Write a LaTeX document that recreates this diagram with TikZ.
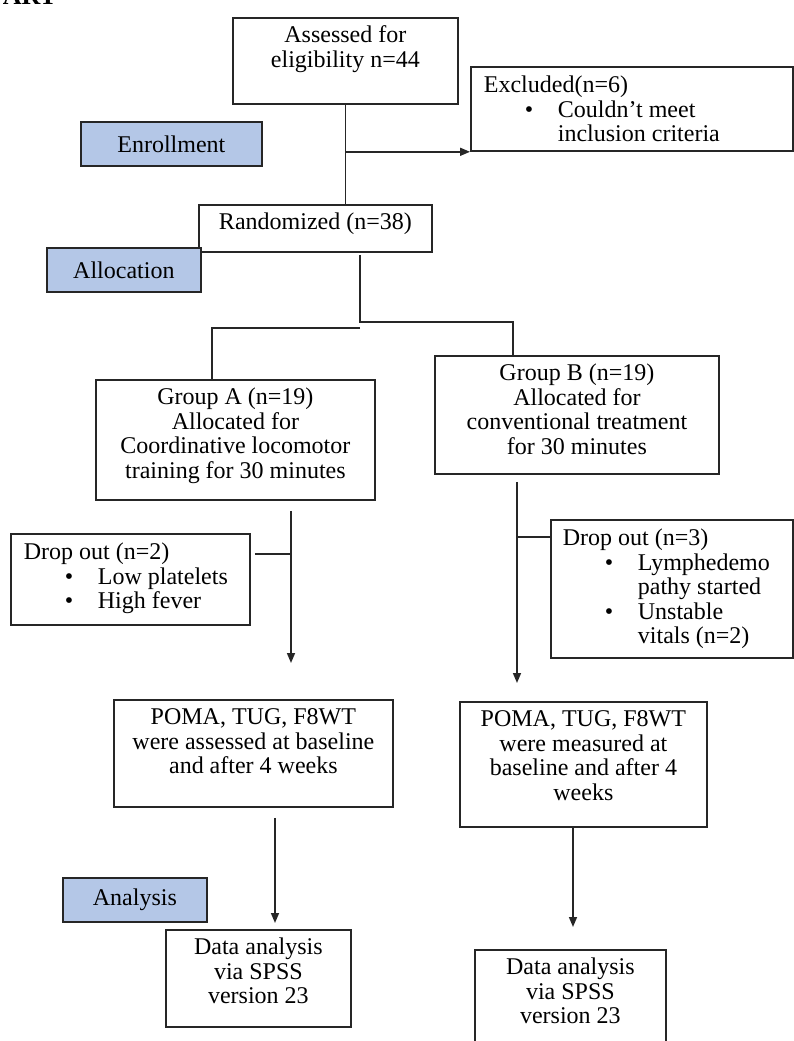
\documentclass[tikz,border=0pt]{standalone}
\usepackage{fontspec}
\setmainfont{Liberation Serif}
\usepackage{tikz}
\usetikzlibrary{arrows.meta,positioning}
\usepackage{xcolor}

\definecolor{phaseblue}{HTML}{B4C7E7}
% text blocks: top aligned, fixed height
\newcommand{\boxtxt}[3]{\parbox[t][#2][t]{#1}{\centering\rule{0pt}{25pt}#3}}
\newcommand{\listtxt}[3]{\parbox[t][#2][t]{#1}{\raggedright\leftskip=13pt\rule{0pt}{26pt}#3}}
\newcommand{\bul}{\hspace*{41pt}\makebox[33pt][l]{\textbullet}}
\newcommand{\bulcont}{\hspace*{74pt}}

\begin{document}
\begin{tikzpicture}[x=1pt, y=-1pt,
    every node/.style={font=\fontsize{24}{24.5}\selectfont},
    box/.style={draw=black!85, line width=1.8pt, fill=white, inner sep=0pt, anchor=north west},
    phase/.style={draw=black!85, line width=1.8pt, fill=phaseblue, inner sep=0pt, anchor=north west},
    line/.style={line width=1.6pt, black!85},
    arr/.style={line width=1.6pt, black!85, -{Triangle[length=10pt,width=8pt]}}]
    \useasboundingbox (0,0) rectangle (793,1041);

    % Title (cut off)
    \node[font=\fontsize{26}{26}\selectfont\bfseries, anchor=base east, inner sep=0pt] (title) at (57,5) {ART};

    % Enrollment
    \node[box] (assess) at (232,17) {\boxtxt{225pt}{86pt}{Assessed for\\eligibility n=44}};
    \node[box] (excl) at (470,66) {\listtxt{322pt}{84pt}{Excluded(n=6)\\\bul Couldn't meet\\\bulcont inclusion criteria}};
    \node[box] (rand) at (198,204) {\boxtxt{233pt}{47pt}{Randomized (n=38)}};
    \node[phase, minimum width=181pt, minimum height=44pt] (enroll) at (80,121) {Enrollment};
    \node[phase, minimum width=154pt, minimum height=44pt] (alloc) at (46,247) {Allocation};

    % Allocation
    \node[box] (grpA) at (95,379) {\boxtxt{279pt}{120pt}{Group A (n=19)\\Allocated for\\Coordinative locomotor\\training for 30 minutes}};
    \node[box] (grpB) at (434,355) {\boxtxt{284pt}{118pt}{Group B (n=19)\\Allocated for\\conventional treatment\\for 30 minutes}};

    % Drop outs
    \node[box] (dropA) at (10,533) {\listtxt{239pt}{91pt}{Drop out (n=2)\\\bul Low platelets\\\bul High fever}};
    \node[box] (dropB) at (550,519) {\listtxt{242pt}{138pt}{\hspace*{-1pt}Drop out (n=3)\\\bul Lymphedemo\\\bulcont pathy started\\\bul Unstable\\\bulcont vitals (n=2)}};

    % Outcome measures
    \node[box] (pomaA) at (113,699) {\boxtxt{279pt}{107pt}{POMA, TUG, F8WT\\were assessed at baseline\\and after 4 weeks}};
    \node[box] (pomaB) at (459,701) {\boxtxt{247pt}{125pt}{POMA, TUG, F8WT\\were measured at\\baseline and after 4\\weeks}};

    % Analysis
    \node[phase, minimum width=144pt, minimum height=44pt] (analysis) at (62,877) {Analysis};
    \node[box] (dataA) at (165,929) {\boxtxt{185pt}{97pt}{Data analysis\\via SPSS\\version 23}};
    \node[box] (dataB) at (474,949) {\boxtxt{191pt}{120pt}{Data analysis\\via SPSS\\version 23}};

    % Joints of the lines
    \coordinate (split) at (360,322);
    \coordinate (bturn) at (513,322);
    \coordinate (aturn) at (212,328);
    \coordinate (aJoin) at (291,554);
    \coordinate (bJoin) at (517,537);
    \coordinate (aLow) at (275,0);
    \coordinate (bLow) at (573,0);

    % Arrows
    \draw[line] (assess.south) -- (assess.south |- rand.north);
    \draw[arr] (assess.south |- excl.south west) -- (excl.south west);
    \draw[line, shorten <=2pt] (rand.south -| split) -- (split) -- (bturn) -- (bturn |- grpB.north);
    \draw[line] (aturn -| split) -- (aturn) -- (aturn |- grpA.north);
    \draw[arr, shorten <=10pt, shorten >=36pt] (grpA.south -| aJoin) -- (pomaA.north -| aJoin);
    \draw[line, shorten <=4pt] (dropA.east |- aJoin) -- (aJoin);
    \draw[arr, shorten <=7pt, shorten >=18pt] (grpB.south -| bJoin) -- (pomaB.north -| bJoin);
    \draw[line] (bJoin) -- (dropB.west |- bJoin);
    \draw[arr, shorten <=10pt, shorten >=6pt] (pomaA.south -| aLow) -- (dataA.north -| aLow);
    \draw[arr, shorten >=22pt] (pomaB.south -| bLow) -- (dataB.north -| bLow);

\end{tikzpicture}
\end{document}
